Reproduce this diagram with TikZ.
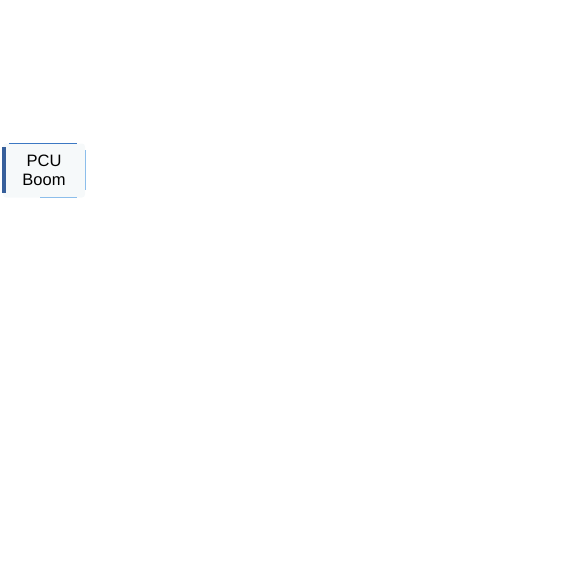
\documentclass[tikz,border=0pt]{standalone}
\usepackage{fontspec}
\setmainfont{Liberation Sans}
\definecolor{edgedark}{RGB}{55,95,155}
\definecolor{edgeblue}{RGB}{60,120,195}
\definecolor{edgelight}{RGB}{140,190,235}
\definecolor{boxfill}{RGB}{246,249,250}
\tikzset{
  pcubox/.style={rectangle, rounded corners=3pt, fill=boxfill, minimum width=82pt, minimum height=54pt, align=center, font=\fontsize{16.5}{19}\selectfont, inner sep=0pt}
}
\begin{document}
\begin{tikzpicture}[x=1pt,y=-1pt]
\useasboundingbox (0,0) rectangle (574,568);
\node[pcubox] (pcu) at (44,170.5) {PCU\\Boom};
\draw[edgedark, line width=4pt] ([xshift=1pt,yshift=-4pt]pcu.north west) -- ([xshift=1pt,yshift=5pt]pcu.south west);
\draw[edgeblue, line width=1.5pt] ([xshift=6pt]pcu.north west) -- ([xshift=-8pt]pcu.north east);
\draw[edgelight, line width=1pt] ([yshift=-7pt]pcu.north east) -- ([yshift=8pt]pcu.south east);
\draw[edgelight, line width=1pt] ([xshift=-4pt]pcu.south) -- ([xshift=-8pt]pcu.south east);
\end{tikzpicture}
\end{document}
